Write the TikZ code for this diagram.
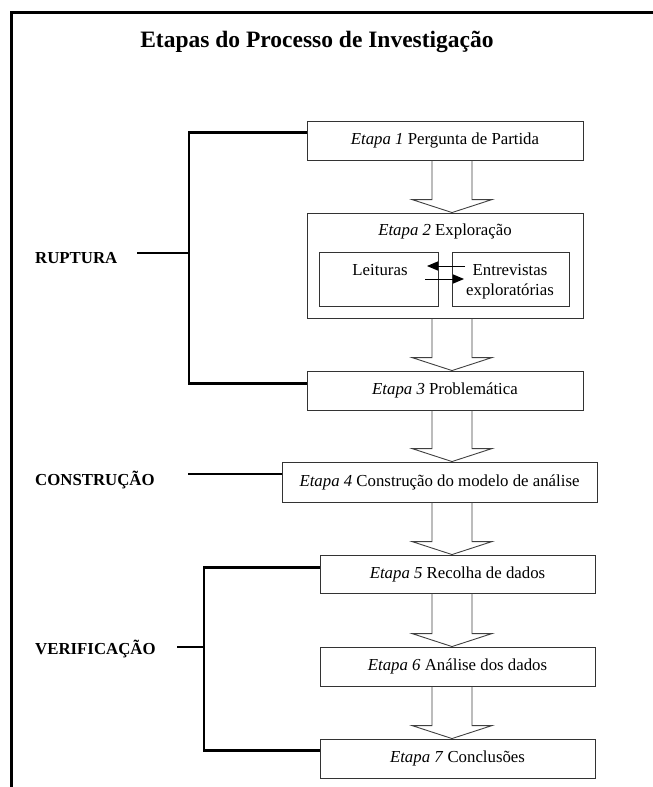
\documentclass[tikz,border=0pt]{standalone}
\usepackage{fontspec}
\setmainfont{Liberation Serif}
\usetikzlibrary{arrows.meta,calc}

% hollow block arrow between two stacked stages, on the common axis x = 452
\newcommand\flowarrow[2]{%
  \draw[hollow] let \p1=(#1.south), \p2=(#2.north) in
    (432pt,\y1) -- (432pt,\y2+13pt) -- (412pt,\y2+13pt) -- (452pt,\y2)
    -- (492pt,\y2+13pt) -- (472pt,\y2+13pt) -- (472pt,\y1);}

\begin{document}
\begin{tikzpicture}[x=1pt,y=-1pt,
  txt/.style={font=\fontsize{16.8}{20}\selectfont},
  stage/.style={txt, draw=black!80, line width=0.9pt, fill=white,
    inner sep=0pt, minimum height=39pt},
  phase/.style={font=\bfseries\fontsize{16.8}{20}\selectfont,
    anchor=base west, inner sep=0pt},
  bracket/.style={line width=2.9pt},
  hollow/.style={draw=black!75, line width=0.9pt},
  swap/.style={line width=1pt, -{Triangle[length=11pt,width=9pt]}}
]
\useasboundingbox (0,0) rectangle (653,787);

% page frame (top and left edges)
\draw[line width=3pt] (653,12.5) -- (11.5,12.5) -- (11.5,787);

\node[font=\bfseries\fontsize{23.5}{28}\selectfont] (title) at (317,42)
  {Etapas do Processo de Investigação};

% stages
\node[stage, minimum width=276pt] (b1) at (445,140.5)
  {\textit{Etapa 1} Pergunta de Partida};
\node[stage, minimum width=276pt, minimum height=105pt] (b2) at (445,265.5) {};
\node[txt, anchor=base, inner sep=0pt] (b2t) at (445,235)
  {\textit{Etapa 2} Exploração};
\node[draw=black!80, line width=0.9pt, minimum width=119pt, minimum height=54pt,
  inner sep=0pt] (lei) at (378.5,279) {};
\node[draw=black!80, line width=0.9pt, minimum width=117pt, minimum height=54pt,
  inner sep=0pt] (ent) at (510.5,279) {};
\node[txt, anchor=base, inner sep=0pt] (leit) at (380,275) {Leituras};
\node[txt, anchor=base, inner sep=0pt] (entt) at (510,275) {Entrevistas};
\node[txt, anchor=base, inner sep=0pt] (entt2) at (510,295) {exploratórias};
\node[stage, minimum width=276pt] (b3) at (445,390.5)
  {\textit{Etapa 3} Problemática};
\node[stage, minimum width=315pt, minimum height=40pt] (b4) at (439.5,482)
  {\textit{Etapa 4} Construção do modelo de análise};
\node[stage, minimum width=275pt, minimum height=38pt] (b5) at (457.5,574)
  {\textit{Etapa 5} Recolha de dados};
\node[stage, minimum width=275pt] (b6) at (457.5,666.5)
  {\textit{Etapa 6} Análise dos dados};
\node[stage, minimum width=275pt] (b7) at (457.5,758.5)
  {\textit{Etapa 7} Conclusões};

% exchange between the two exploration activities
\coordinate (sw1) at (465,266);
\coordinate (sw2) at (425,279);
\draw[swap] (sw1) -- (sw1 -| 427,0);
\draw[swap] (sw2) -- (sw2 -| 464,0);

% flow between stages
\flowarrow{b1}{b2}
\flowarrow{b2}{b3}
\flowarrow{b3}{b4}
\flowarrow{b4}{b5}
\flowarrow{b5}{b6}
\flowarrow{b6}{b7}

% phases
\node[phase] (rup) at (35,263) {RUPTURA};
\node[phase] (con) at (35,485) {CONSTRUÇÃO};
\node[phase] (ver) at (35,654) {VERIFICAÇÃO};

\coordinate (rj) at (189,253);
\coordinate (rt) at (137,253);
\draw[bracket] ($(b1.north west)!0.31!(b1.south west)$) -| (rj)
  |- ($(b3.north west)!0.33!(b3.south west)$);
\draw[bracket] (rt) -- (rj);

\coordinate (ct) at (188,474);
\draw[bracket] (ct) -- (ct -| b4.west);

\coordinate (vj) at (204,647);
\coordinate (vt) at (177,647);
\draw[bracket] ($(b5.north west)!0.34!(b5.south west)$) -| (vj)
  |- ($(b7.north west)!0.31!(b7.south west)$);
\draw[bracket] (vt) -- (vj);
\end{tikzpicture}
\end{document}
